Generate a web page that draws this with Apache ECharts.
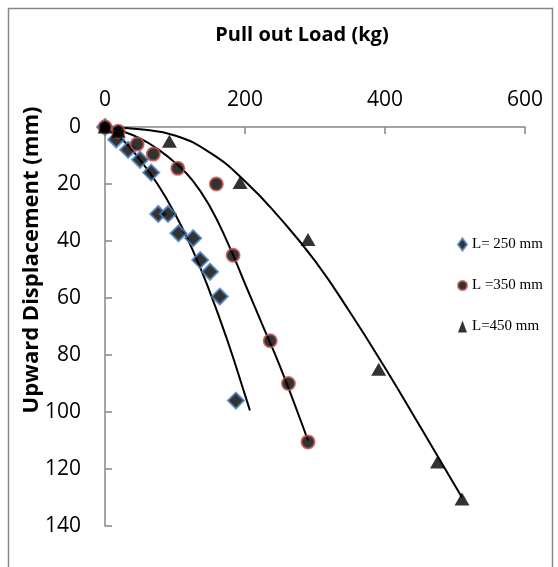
<!DOCTYPE html>
<html>
<head>
<meta charset="utf-8">
<script src="https://cdn.jsdelivr.net/npm/echarts@6/dist/echarts.min.js"></script>
<style>
  html, body { margin: 0; padding: 0; background: #fff; }
  #chart { width: 558px; height: 567px; }
</style>
</head>
<body>
<div id="chart"></div>
<script>
// measured points, load (kg) vs upward displacement (mm)
const load250 = [0, 16, 33, 50, 66, 76, 90, 105, 126, 136, 150, 164, 187];
const disp250 = [0, 4.4, 8, 11.5, 16, 30.5, 30.5, 37.3, 39, 46.7, 50.8, 59.5, 96];

const load350 = [0, 19, 46, 69, 104, 159, 183, 236, 262, 290];
const disp350 = [0, 1.5, 6, 9.5, 14.5, 20, 45, 75, 90, 110.5];

const load450 = [0, 19, 92, 193, 290, 391, 475, 510];
const disp450 = [0, 1.5, 5, 19.5, 39.5, 85, 117.5, 130.5];

// trend curves
const trendLoad250 = [0, 25, 50, 75, 100, 125, 150, 175, 200, 207];
const trendDisp250 = [0, 4.5, 11.5, 20, 30.5, 43, 58, 75, 94, 99.5];

const trendLoad350 = [0, 25, 50, 75, 100, 125, 150, 175, 200, 225, 250, 275, 290];
const trendDisp350 = [0, 1.5, 4, 7.7, 12.5, 18.7, 28, 40.5, 55, 69.5, 84, 100, 110];

const trendLoad450 = [0, 50, 100, 150, 200, 250, 300, 350, 400, 450, 510];
const trendDisp450 = [0, 0.8, 3, 9, 19, 32, 47, 65, 84.5, 105, 130];

const seriesNames = ['L= 250 mm', 'L =350 mm', 'L=450 mm'];

function pairs(xs, ys) {
  return xs.map((x, i) => [x, ys[i]]);
}

function trend(xs, ys) {
  return {
    type: 'line',
    data: pairs(xs, ys),
    smooth: true,
    showSymbol: false,
    silent: true,
    z: 1,
    lineStyle: { color: '#000', width: 2 }
  };
}

const chart = echarts.init(document.getElementById('chart'));
chart.setOption({
  animation: false,
  backgroundColor: '#fff',
  grid: { left: 105, right: 33, top: 127, bottom: 41 },
  graphic: [
    {
      type: 'rect',
      shape: { x: 8.5, y: 8.5, width: 544, height: 620 },
      style: { fill: 'none', stroke: '#868686', lineWidth: 1.5 }
    },
    {
      type: 'text',
      x: 302,
      y: 35,
      style: {
        text: 'Pull out Load (kg)',
        textAlign: 'center',
        textVerticalAlign: 'middle',
        font: 'bold 20px "Open Sans"',
        fill: '#000'
      }
    },
    {
      type: 'text',
      x: 32,
      y: 260,
      rotation: Math.PI / 2,
      style: {
        text: 'Upward Displacement (mm)',
        textAlign: 'center',
        textVerticalAlign: 'middle',
        font: 'bold 22px "Open Sans"',
        fill: '#000'
      }
    }
  ],
  legend: {
    data: seriesNames,
    orient: 'vertical',
    left: 452,
    top: 232,
    itemGap: 26,
    itemWidth: 9,
    itemHeight: 12,
    textStyle: { fontFamily: 'Liberation Serif', fontSize: 15, color: '#000' }
  },
  xAxis: {
    type: 'value',
    position: 'top',
    min: 0,
    max: 600,
    interval: 200,
    splitLine: { show: false },
    axisLine: { lineStyle: { color: '#868686', width: 1.5 } },
    axisTick: { inside: true, length: 7, lineStyle: { color: '#868686', width: 1.5 } },
    axisLabel: { margin: 16, fontFamily: 'Open Sans', fontSize: 21, color: '#000' }
  },
  yAxis: {
    type: 'value',
    inverse: true,
    min: 0,
    max: 140,
    interval: 20,
    splitLine: { show: false },
    axisLine: { lineStyle: { color: '#868686', width: 1.5 } },
    axisTick: { inside: true, length: 7, lineStyle: { color: '#868686', width: 1.5 } },
    axisLabel: { margin: 24, fontFamily: 'Open Sans', fontSize: 21, color: '#000' }
  },
  series: [
    trend(trendLoad250, trendDisp250),
    trend(trendLoad350, trendDisp350),
    trend(trendLoad450, trendDisp450),
    {
      name: seriesNames[0],
      type: 'scatter',
      symbol: 'diamond',
      symbolSize: 16,
      z: 3,
      data: pairs(load250, disp250),
      itemStyle: { color: '#000', borderColor: '#4f81bd', borderWidth: 2 }
    },
    {
      name: seriesNames[1],
      type: 'scatter',
      symbol: 'circle',
      symbolSize: 13,
      z: 3,
      data: pairs(load350, disp350),
      itemStyle: { color: '#000', borderColor: '#c0504d', borderWidth: 2 }
    },
    {
      name: seriesNames[2],
      type: 'scatter',
      symbol: 'triangle',
      symbolSize: [15, 13],
      z: 3,
      data: pairs(load450, disp450),
      itemStyle: { color: '#000' }
    }
  ]
});
</script>
</body>
</html>
